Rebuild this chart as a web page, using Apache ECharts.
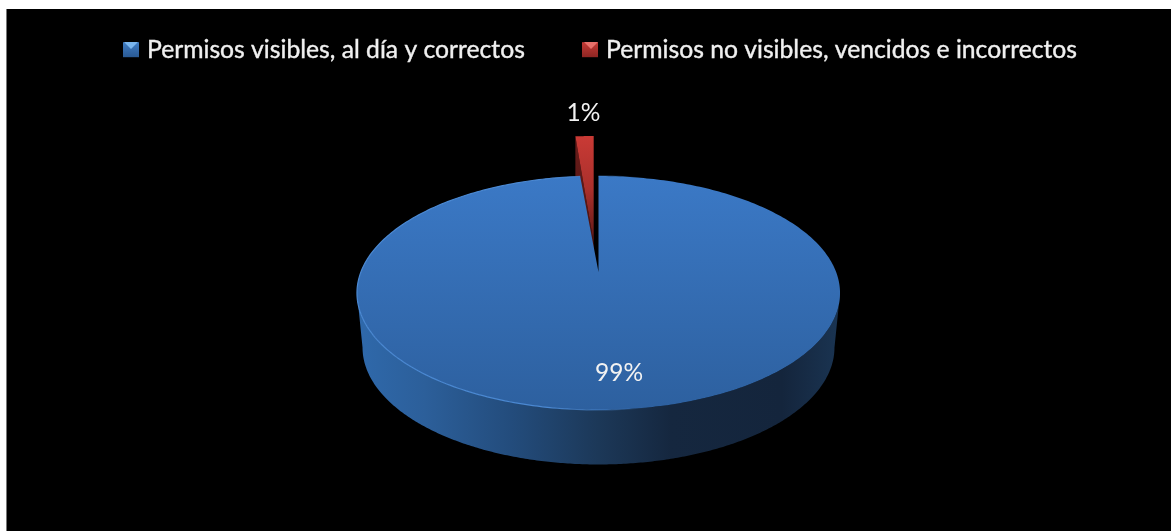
<!DOCTYPE html>
<html><head><meta charset="utf-8">
<style>
html,body{margin:0;padding:0;background:#fff;width:1171px;height:531px;overflow:hidden}
#bg{position:absolute;left:6px;top:9px;right:0;bottom:0;background:#000;border-left:1px solid #777;box-sizing:border-box}
#chart{position:absolute;left:0;top:0;width:1171px;height:531px}
</style>
<script src="https://cdn.jsdelivr.net/npm/echarts@6/dist/echarts.min.js"></script>
</head><body>
<div id="bg"></div><div id="chart"></div>
<script>
const categories = ['Permisos visibles, al día y correctos', 'Permisos no visibles, vencidos e incorrectos'];
const values = [98.55, 1.45];
const shownLabels = ['99%', '1%'];

const FONT = 'Lato, "Open Sans", sans-serif';
const geo = {cx:598.5, cy:272, a:113.2, b:237.6, k:0.1795, depth:54.5, baseScale:0.977, silhouetteV:-0.1788,
  tipOffset:[-4.8,-29], rimOffset:[-4.8,-40]};
const labelPos = [[619,373],[583.5,113]];
const total = values.reduce((s,v)=>s+v,0);
const LG = (x0,y0,x1,y1,stops)=>new echarts.graphic.LinearGradient(x0,y0,x1,y1,stops.map(c=>({offset:c[0],color:c[1]})));

// angle measured clockwise from 12 o'clock, on a perspective-projected disc
function project(deg, r){
  const t = deg*Math.PI/180, u = r*Math.sin(t), v = r*Math.cos(t), w = 1+geo.k*v;
  return [geo.cx+geo.b*u/w, geo.cy-geo.a*v/w];
}
function vOf(deg){ return Math.cos(deg*Math.PI/180); }
function rim(start,end,n){
  const p=[]; for(let i=0;i<=n;i++) p.push(project(start+(end-start)*i/n,1)); return p;
}
function toBase(p){ return [geo.cx+(p[0]-geo.cx)*geo.baseScale, p[1]+geo.depth]; }

function renderBlue(params, api){
  const span = api.value(0)/total*360;
  const arc = rim(0, span, 360);
  const apex = project(0,0);
  const front = [];
  for(let i=0;i<=720;i++){ const d=span*i/720; if(vOf(d)<=geo.silhouetteV) front.push(project(d,1)); }
  const wall = front.concat(front.map(toBase).reverse());
  return {type:'group',children:[
    {type:'polygon',shape:{points:wall},style:{fill:LG(0,0,1,0,[[0,'#2f69ab'],[0.14,'#2c5f9a'],[0.32,'#234c7c'],[0.5,'#1c3858'],[0.65,'#15273f'],[0.88,'#14253c'],[1,'#1a3452']])}},
    {type:'polygon',shape:{points:[apex].concat(arc)},style:{fill:LG(0,0,0,1,[[0,'#3b79c6'],[1,'#2d609f']])}},
    {type:'polyline',shape:{points:arc},style:{fill:null,lineWidth:1.2,stroke:LG(0,0,1,0,[[0,'#4a88d2'],[0.4,'#4a88d2'],[0.6,'rgba(74,136,210,0)'],[1,'rgba(74,136,210,0)']])}},
    {type:'text',style:{text:shownLabels[0],x:labelPos[0][0],y:labelPos[0][1],align:'center',verticalAlign:'middle',fill:'#f2f2f2',font:'24.5px '+FONT}}
  ]};
}
function renderRed(params, api){
  const span = api.value(0)/total*360;
  const outer = rim(360-span,360,12).map(p=>[p[0]+geo.rimOffset[0],p[1]+geo.rimOffset[1]]);
  const a0 = project(0,0), tip=[a0[0]+geo.tipOffset[0],a0[1]+geo.tipOffset[1]];
  const left = outer[0];
  const side = [left,tip,[tip[0],tip[1]+geo.depth],[left[0],left[1]+geo.depth]];
  return {type:'group',children:[
    {type:'polygon',shape:{points:side},style:{fill:LG(0,0,0,1,[[0,'#6a1c1a'],[1,'#3a0f0e']])}},
    {type:'polygon',shape:{points:outer.concat([tip])},style:{fill:LG(0,0,0,1,[[0,'#c93a35'],[0.5,'#aa302c'],[1,'#5e1816']])}},
    {type:'text',style:{text:shownLabels[1],x:labelPos[1][0],y:labelPos[1][1],align:'center',verticalAlign:'middle',fill:'#f2f2f2',font:'24.5px '+FONT}}
  ]};
}

const chart = echarts.init(document.getElementById('chart'),null,{renderer:'canvas'});
chart.setOption({
  animation:false,
  backgroundColor:'transparent',
  legend:{
    left:118, top:32, itemWidth:16, itemHeight:15, itemGap:57, icon:'rect',
    textStyle:{color:'#f0f0f0',fontSize:24.7,fontFamily:FONT,padding:[0,0,0,3],textBorderColor:'#e6e6e6',textBorderWidth:0.4},
    data:[
      {name:categories[0],itemStyle:{color:LG(0,0,0,1,[[0,'#3f7cc4'],[1,'#2a5a94'] ])}},
      {name:categories[1],itemStyle:{color:LG(0,0,0,1,[[0,'#c43a35'],[1,'#8e2623'] ])}}
    ]
  },
  graphic:[
    {type:'polygon',z:100,shape:{points:[[124,42],[138,42],[131,49]]},style:{fill:'#79b5ee'}},
    {type:'polygon',z:100,shape:{points:[[584,42],[598,42],[591,49]]},style:{fill:'#e8706a'}}
  ],
  series:[
    {type:'custom',name:categories[1],coordinateSystem:'none',renderItem:renderRed,data:[[values[1]]],itemStyle:{color:'#c43a35'},z:1},
    {type:'custom',name:categories[0],coordinateSystem:'none',renderItem:renderBlue,data:[[values[0]]],itemStyle:{color:'#3a75bf'},z:2}
  ]
});
</script>
</body></html>
